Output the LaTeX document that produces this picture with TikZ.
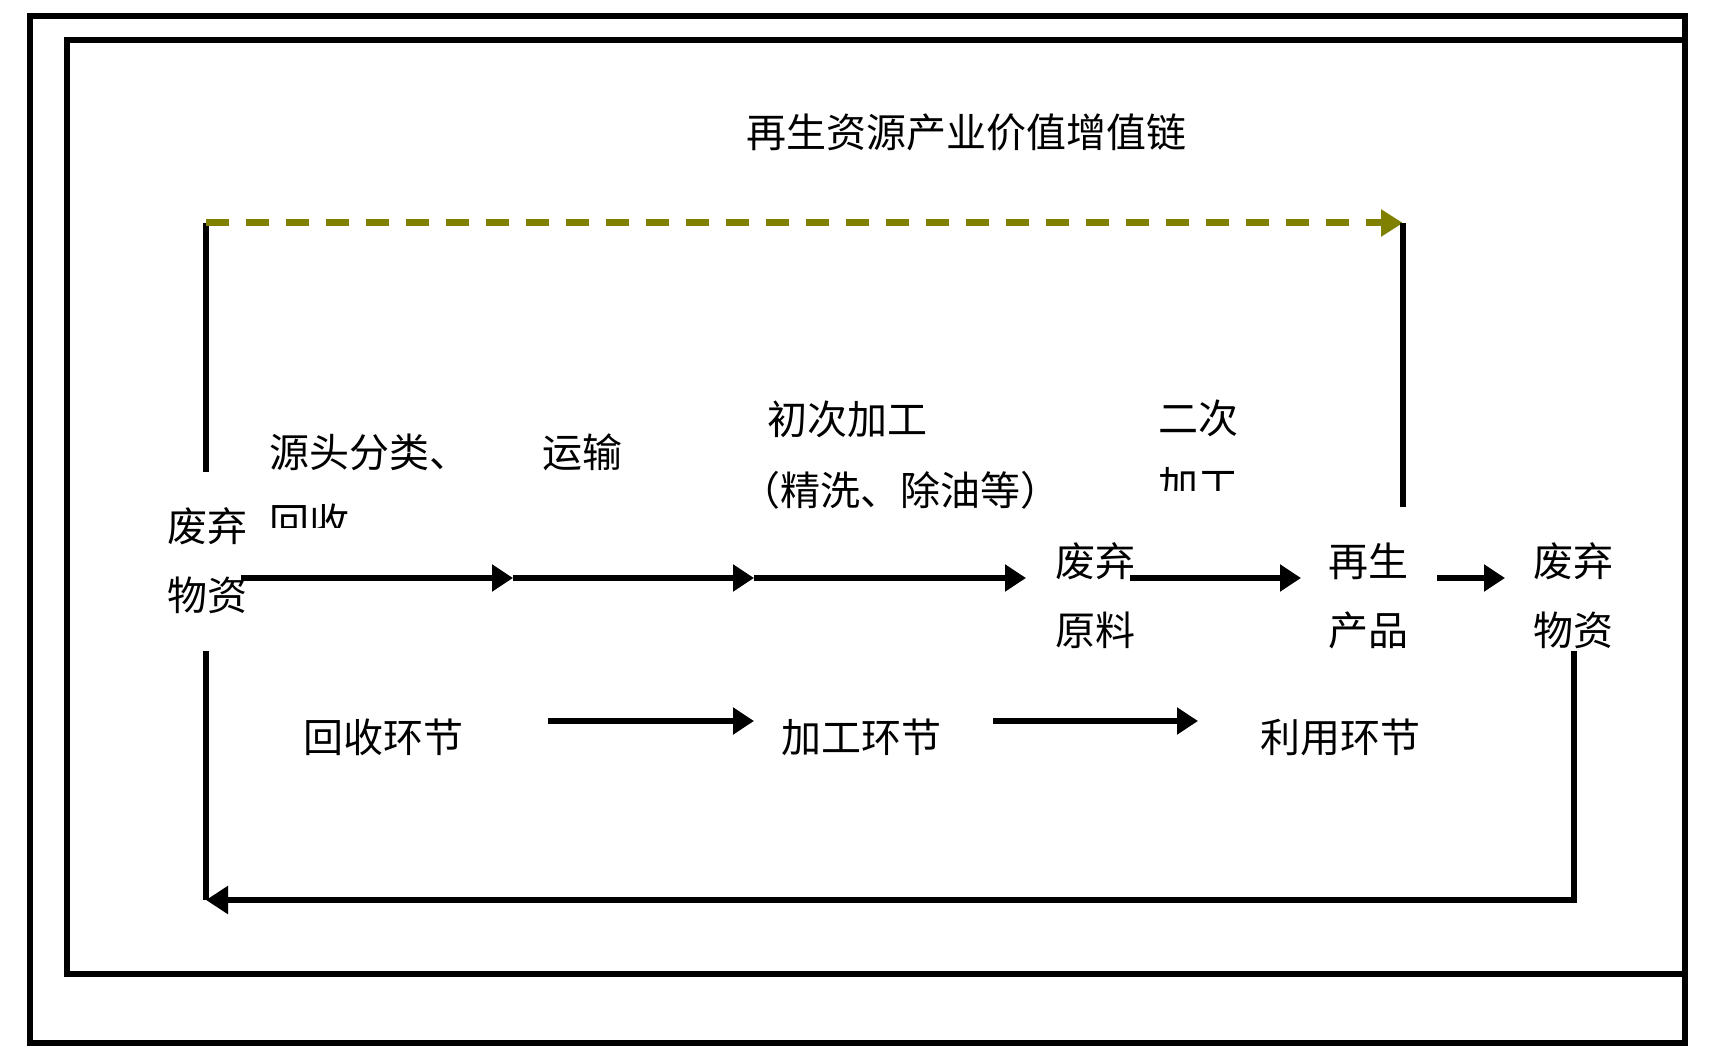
\documentclass[tikz,border=0pt]{standalone}
\usepackage{fontspec}
\setmainfont{Noto Sans CJK SC}
\usetikzlibrary{arrows.meta}
\definecolor{olivedash}{HTML}{808000}
\begin{document}
\begin{tikzpicture}[x=0.5pt,y=-0.5pt,
  txt/.style={inner sep=0pt, font=\fontsize{20}{34.5}\selectfont},
  frame/.style={line width=3pt},
  conn/.style={line width=3pt, -{Triangle[length=10.5pt,width=13pt]}},
  link/.style={line width=2.75pt},
  valuechain/.style={line width=3.5pt, draw=olivedash, dash pattern=on 11.5pt off 8.5pt,
    -{Triangle[length=11pt,width=13pt,fill=olivedash]}}
]
\useasboundingbox (0,0) rectangle (1720,1059);
% frames
\draw[frame] (30,16) rectangle (1685,1043);
\draw[frame] (67,40) rectangle (1685,974);

% title
\node[txt] (title) at (966,132) {再生资源产业价值增值链};

% main nodes
\node[txt, align=center] (src) at (207,561) {废弃\\物资};
\node[txt, align=center] (raw) at (1095,596) {废弃\\原料};
\node[txt, align=center] (prod) at (1368,596) {再生\\产品};
\node[txt, align=center] (dst) at (1573,596) {废弃\\物资};

% step labels
\node[txt, anchor=west] (sort) at (269,452) {源头分类、};
\begin{scope}
  \clip (250,480) rectangle (480,527);
  \node[txt, anchor=west] (sort2) at (269,522) {回收};
\end{scope}
\node[txt] (trans) at (582,452) {运输};
\node[txt, anchor=west] (prim) at (767,419) {初次加工};
\node[txt] (prim2) at (900,490) {（精洗、除油等）};
\node[txt, anchor=west] (sec) at (1158,418) {二次};
\begin{scope}
  \clip (1140,450) rectangle (1260,490);
  \node[txt, anchor=west] (sec2) at (1158,486) {加工};
\end{scope}

% stage labels
\node[txt] (stA) at (383,737) {回收环节};
\node[txt] (stB) at (861,737) {加工环节};
\node[txt] (stC) at (1340,737) {利用环节};

% coordinates
\coordinate (lt) at (206,223);
\coordinate (rt) at (1403,223);
\coordinate (lu) at (206,472);
\coordinate (ru) at (1403,507);
\coordinate (ll) at (206,651);
\coordinate (lb) at (206,900);
\coordinate (rb) at (1574,900);
\coordinate (rl) at (1574,651);

\coordinate (a0) at (241,578);
\coordinate (a1) at (513,578);
\coordinate (a2) at (754,578);
\coordinate (a3) at (1026,578);
\coordinate (a4) at (1130,578);
\coordinate (a5) at (1301,578);
\coordinate (a6) at (1437,578);
\coordinate (a7) at (1505,578);

\coordinate (b0) at (548,721);
\coordinate (b1) at (754,721);
\coordinate (b2) at (993,721);
\coordinate (b3) at (1198,721);

% value chain
\draw[link] (lu) -- (lt);
\draw[valuechain] (lt) -- (rt);
\draw[link] (rt) -- (ru);

% return loop
\draw[link] (ll) -- (lb);
\draw[link, -{Triangle[length=11pt,width=13.5pt]}] (rl) -- (rb) -- (lb);

% main flow
\draw[conn] (a0) -- (a1);
\draw[conn] (a1) -- (a2);
\draw[conn] (a2) -- (a3);
\draw[conn] (a4) -- (a5);
\draw[conn] (a6) -- (a7);

% stage flow
\draw[conn] (b0) -- (b1);
\draw[conn] (b2) -- (b3);
\end{tikzpicture}
\end{document}
